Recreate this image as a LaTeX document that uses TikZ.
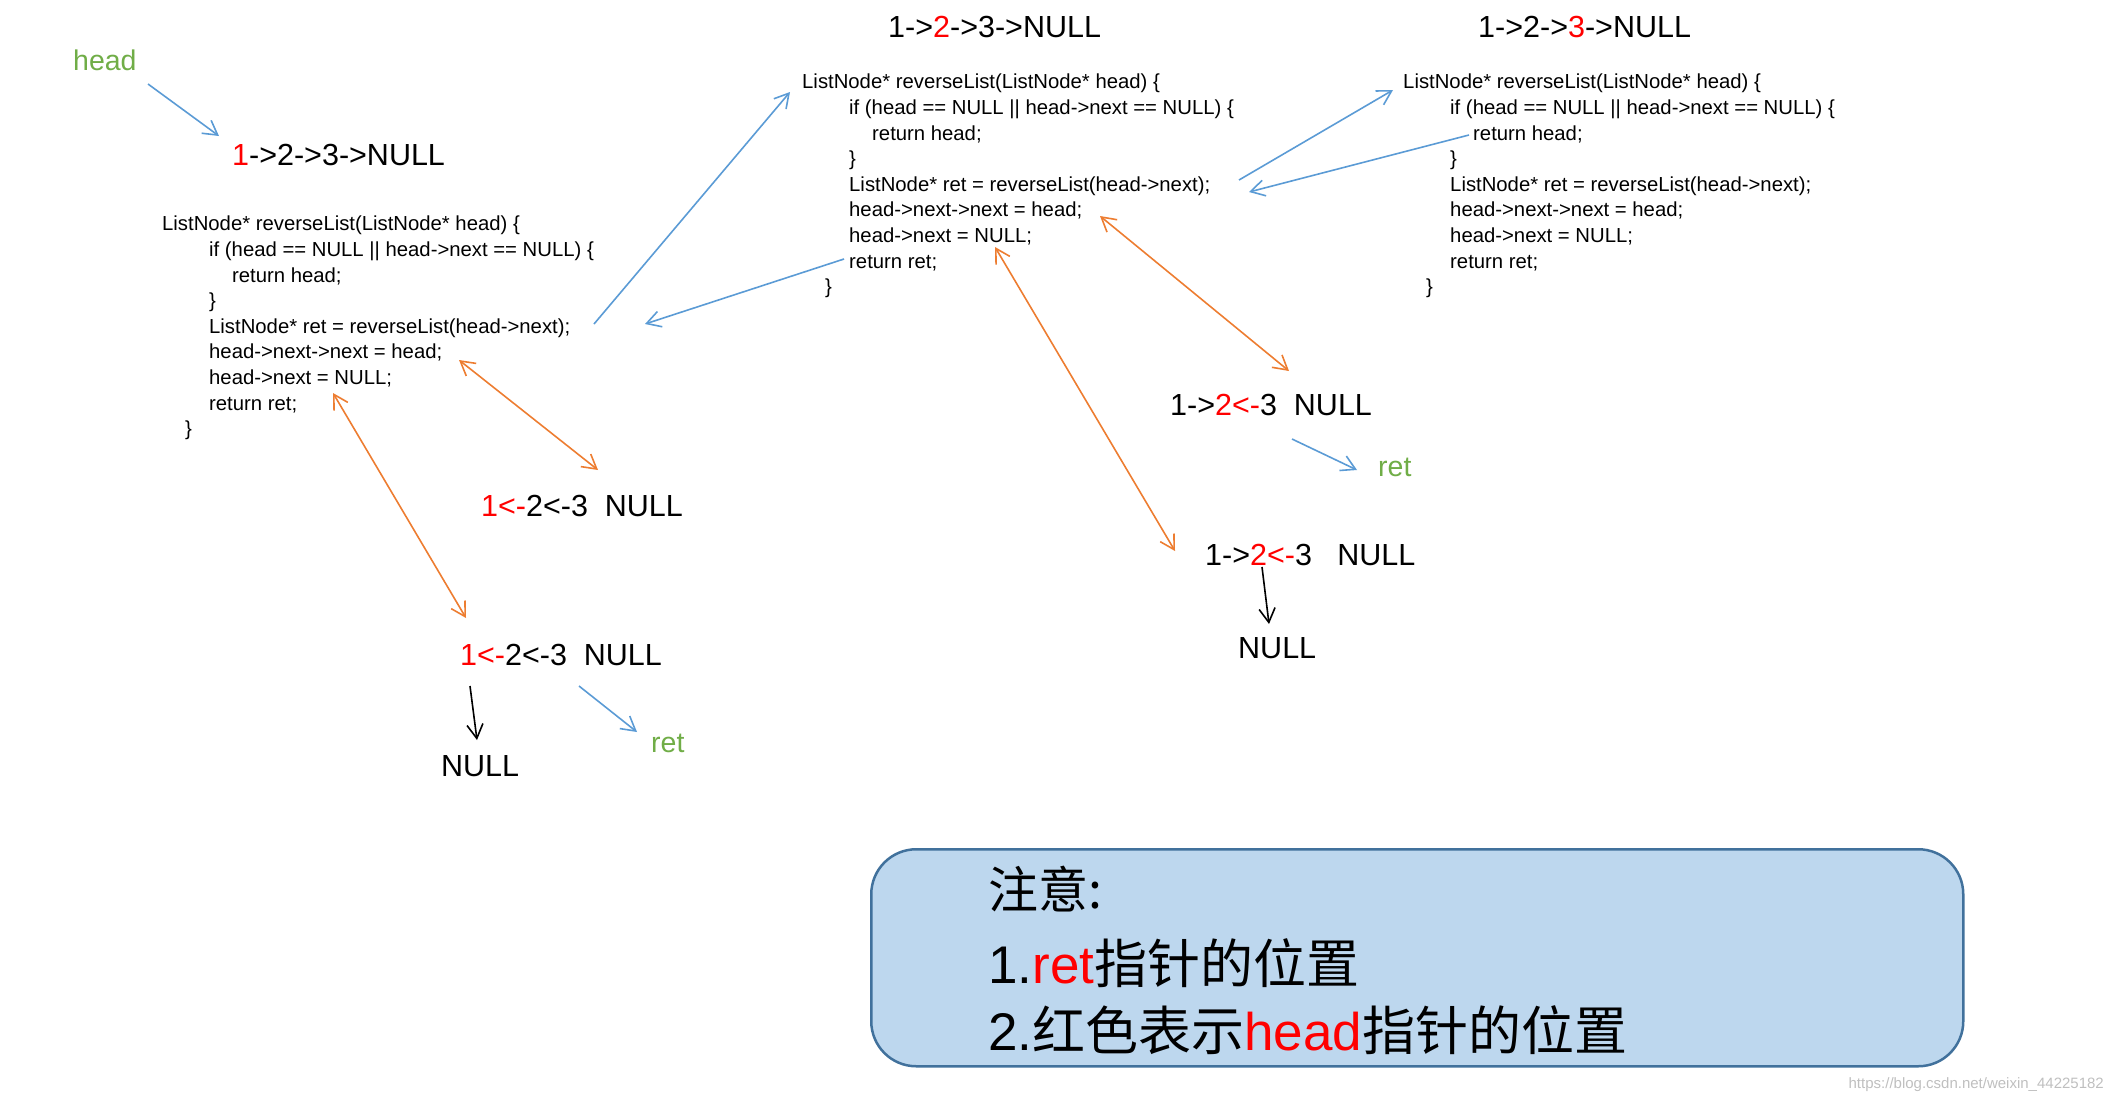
\documentclass[tikz,border=0pt]{standalone}
\usepackage{fontspec}
\setmainfont{Liberation Sans}
\newfontfamily\cjk{Noto Sans CJK SC}
\usetikzlibrary{arrows.meta}
\definecolor{ablue}{HTML}{5B9BD5}
\definecolor{aorange}{HTML}{ED7D31}
\definecolor{agreen}{HTML}{70AD47}
\definecolor{boxfill}{HTML}{BDD7EE}
\definecolor{boxdraw}{HTML}{41719C}
\tikzset{
  tip/.style={-{Straight Barb[length=14pt,width=16pt]}},
  btip/.style={{Straight Barb[length=14pt,width=16pt]}-{Straight Barb[length=14pt,width=16pt]}},
  bluearr/.style={tip,ablue,line width=1.6pt},
  orangearr/.style={btip,aorange,line width=1.6pt},
  blackarr/.style={tip,black,line width=1.6pt},
  code/.style={anchor=north west,align=left,inner sep=0pt,font=\fontsize{20.3}{25.6}\selectfont},
  lst/.style={anchor=base west,inner sep=0pt,font=\fontsize{30.5}{32}\selectfont},
  glab/.style={anchor=base west,inner sep=0pt,text=agreen,font=\fontsize{28.5}{32}\selectfont},
}
\newcommand{\codeblk}{ListNode* reverseList(ListNode* head) \{\\
\hspace*{47pt}if (head == NULL || head->next == NULL) \{\\
\hspace*{70pt}return head;\\
\hspace*{47pt}\}\\
\hspace*{47pt}ListNode* ret = reverseList(head->next);\\
\hspace*{47pt}head->next->next = head;\\
\hspace*{47pt}head->next = NULL;\\
\hspace*{47pt}return ret;\\
\hspace*{23pt}\}}
\begin{document}
\begin{tikzpicture}[x=1pt,y=-1pt]
\useasboundingbox (0,0) rectangle (2106,1096);
% block 1
\node[glab] (hd) at (73,70) {head};
\node[lst] (l1) at (232,165) {{\color{red}1}->2->3->NULL};
\node[code] (c1) at (162,216) {\codeblk};
\node[lst] (l2) at (481,516) {{\color{red}1<-}2<-3\ \ NULL};
\node[lst] (l3) at (460,665) {{\color{red}1<-}2<-3\ \ NULL};
\node[lst] (n1) at (441,776) {NULL};
\node[glab] (r1) at (651,752) {ret};
% block 2
\node[lst] (t2) at (888,37) {1->{\color{red}2}->3->NULL};
\node[code] (c2) at (802,74) {\codeblk};
\node[lst] (l4) at (1170,415) {1->{\color{red}2<-}3\ \ NULL};
\node[glab] (r2) at (1378,476) {ret};
\node[lst] (l5) at (1205,565) {1->{\color{red}2<-}3\ \ \ NULL};
\node[lst] (n2) at (1238,658) {NULL};
% block 3
\node[lst] (t3) at (1478,37) {1->2->{\color{red}3}->NULL};
\node[code] (c3) at (1403,74) {\codeblk};
% coordinates
\coordinate (a1) at (148,84); \coordinate (a2) at (219,136);
\coordinate (b1) at (594,324); \coordinate (b2) at (790,92);
\coordinate (b3) at (844,259); \coordinate (b4) at (645,324);
\coordinate (o1) at (598,470); \coordinate (o2) at (459,360);
\coordinate (o3) at (466,618); \coordinate (o4) at (333,393);
\coordinate (k1) at (470,686); \coordinate (k2) at (477,740);
\coordinate (g1) at (579,686); \coordinate (g2) at (637,732);
\coordinate (d1) at (1239,180); \coordinate (d2) at (1393,90);
\coordinate (d3) at (1469,135); \coordinate (d4) at (1249,192);
\coordinate (p1) at (1100,216); \coordinate (p2) at (1289,371);
\coordinate (p3) at (995,247); \coordinate (p4) at (1175,551);
\coordinate (h1) at (1292,439); \coordinate (h2) at (1357,470);
\coordinate (m1) at (1262,567); \coordinate (m2) at (1269,624);
\draw[bluearr] (a1) -- (a2);
\draw[bluearr] (b1) -- (b2);
\draw[bluearr] (b3) -- (b4);
\draw[orangearr] (o1) -- (o2);
\draw[orangearr] (o3) -- (o4);
\draw[blackarr] (k1) -- (k2);
\draw[bluearr] (g1) -- (g2);
\draw[bluearr] (d1) -- (d2);
\draw[bluearr] (d3) -- (d4);
\draw[orangearr] (p1) -- (p2);
\draw[orangearr] (p3) -- (p4);
\draw[bluearr] (h1) -- (h2);
\draw[blackarr] (m1) -- (m2);
% note box
\node[draw=boxdraw,fill=boxfill,line width=2.5pt,rounded corners=45pt,minimum width=1092pt,minimum height=217pt,anchor=north west] (box) at (870,848) {};
\node[anchor=base west,inner sep=0pt,font=\fontsize{50}{56}\selectfont] (nt1) at (988,908) {\cjk 注意:};
\node[anchor=base west,inner sep=0pt,font=\fontsize{53}{56}\selectfont] (nt2) at (988,983) {1.{\color{red}ret}{\cjk 指针的位置}};
\node[anchor=base west,inner sep=0pt,font=\fontsize{53}{56}\selectfont] (nt3) at (988,1050) {2.{\cjk 红色表示}{\color{red}head}{\cjk 指针的位置}};
\node[anchor=base east,inner sep=0pt,text=black!25,font=\fontsize{15}{16}\selectfont] (wm) at (2104,1088) {https://blog.csdn.net/weixin\_44225182};
\end{tikzpicture}
\end{document}
